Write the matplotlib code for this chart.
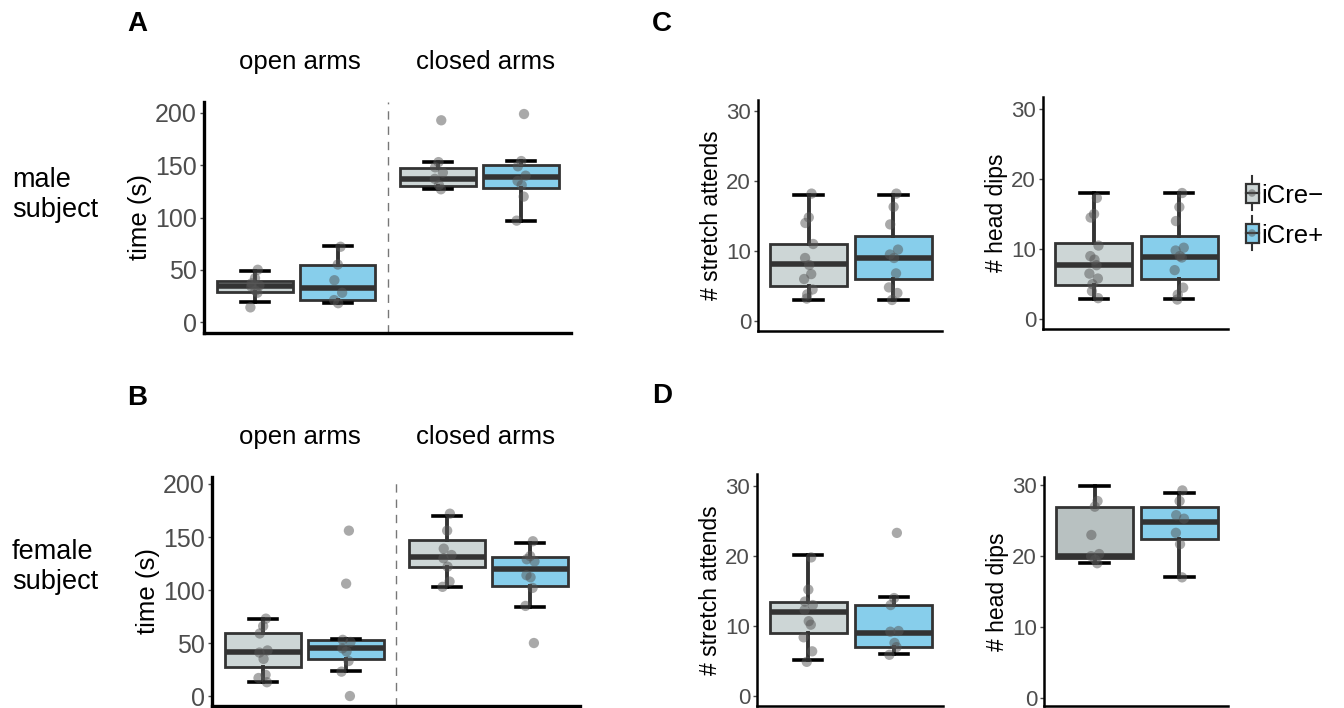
import matplotlib
matplotlib.use('Agg')
import matplotlib.pyplot as plt
import numpy as np

plt.rcParams['font.family'] = ['Liberation Sans', 'DejaVu Sans']

W, H = 1344, 708

# ---------------- data ----------------
genotypes = ['iCre−', 'iCre+']
arms = ['open arms', 'closed arms']
subjects = ['male\nsubject', 'female\nsubject']
panel_letters = ['A', 'B', 'C', 'D']

# box stats: [whislo, q1, median, q3, whishi]
A_open_neg = [19, 28.8, 34, 39, 49]
A_open_pos = [18.2, 20.8, 33, 54.4, 72.6]
A_closed_neg = [127, 130, 136.6, 147.5, 153]
A_closed_pos = [97, 128, 138.6, 150, 154]
A_open_neg_pts = [50, 42, 37, 35, 34, 30, 28, 14]
A_open_pos_pts = [72, 55, 40, 28, 21, 18]
A_closed_neg_pts = [193, 153, 148, 143, 137, 131, 127]
A_closed_pos_pts = [199, 154, 149, 140, 135, 131, 120, 97]

B_open_neg = [13, 27.5, 41.4, 59.7, 72.4]
B_open_pos = [23.4, 34.8, 44.9, 52.8, 53.7]
B_closed_neg = [103, 121.6, 131, 147, 170]
B_closed_pos = [84, 103.6, 120, 131, 144.7]
B_open_neg_pts = [73, 66, 59, 43, 41, 35, 20, 17, 13]
B_open_pos_pts = [156, 106, 53, 51, 45, 42, 33, 23, 0]
B_closed_neg_pts = [172, 156, 139, 133, 130, 122, 108, 103]
B_closed_pos_pts = [146, 132, 129, 127, 114, 112, 102, 85, 50]

C_stretch_neg = [3, 4.95, 8.1, 11.05, 18]
C_stretch_pos = [3, 6, 9, 12.1, 18]
C_stretch_neg_pts = [18.2, 14.8, 14, 11, 9, 8, 6.7, 6, 4.5, 3.8, 3.2]
C_stretch_pos_pts = [18.2, 16.3, 13.8, 10.2, 9.5, 9, 6.8, 4.8, 4, 3]
C_head_neg = [2.85, 4.9, 7.8, 10.8, 18]
C_head_pos = [2.85, 5.8, 8.9, 11.9, 18]
C_head_neg_pts = [17.3, 15, 14.5, 10.5, 9, 8.5, 7.7, 6.5, 5.8, 5, 4, 3]
C_head_pos_pts = [18, 16, 14, 10.2, 9.8, 9, 8.8, 7, 4.5, 3.5, 2.8]

D_stretch_neg = [5.1, 9, 12, 13.5, 20.1]
D_stretch_pos = [6, 7, 9, 13, 14.1]
D_stretch_neg_pts = [19.8, 15.2, 13.5, 13, 12.3, 10.7, 10.2, 8.4, 6.4, 4.9]
D_stretch_pos_pts = [23.3, 14, 13, 9.3, 9.2, 7.6, 7, 5.9]
D_head_neg = [19, 19.8, 20, 26.9, 29.9]
D_head_pos = [17, 22.4, 24.9, 26.9, 28.9]
D_head_neg_pts = [27.8, 27, 23, 20.3, 20, 19.5, 19]
D_head_pos_pts = [29.3, 27.8, 25.8, 25.3, 23.3, 21.7, 17]

# ---------------- style ----------------
GRAY = '#cdd6d6'
GRAY_D = '#b8c1c1'
BLUE = '#87ceeb'
EDGE = '#333333'
TICKC = '#4d4d4d'

fig = plt.figure(figsize=(W / 100, H / 100), dpi=100)


def ax_px(l, t, r, b):
    return fig.add_axes([l / W, 1 - b / H, (r - l) / W, (b - t) / H])


def jitter(n, amp):
    k = np.arange(n)
    return amp * np.sin(k * 2.4 + 0.7)


def draw(ax, pos, st, pts, color, width):
    ax.bxp([dict(whislo=st[0], q1=st[1], med=st[2], q3=st[3], whishi=st[4], fliers=[])],
           positions=[pos], widths=width, patch_artist=True, showfliers=False,
           capwidths=width * 0.37,
           boxprops=dict(facecolor=color, edgecolor=EDGE, linewidth=2.0),
           medianprops=dict(color=EDGE, linewidth=4.0, solid_capstyle='butt'),
           whiskerprops=dict(color=EDGE, linewidth=2.8),
           capprops=dict(color='black', linewidth=2.6))
    ax.scatter(pos + jitter(len(pts), width * 0.06), pts, s=55, color='#555555',
               alpha=0.5, edgecolors='none', zorder=5)


def style(ax, ylim, ticks, fs, lw):
    ax.set_ylim(*ylim)
    ax.set_yticks(ticks)
    ax.set_yticklabels([str(t) for t in ticks], fontsize=fs, color=TICKC)
    ax.set_xticks([])
    for s in ['top', 'right']:
        ax.spines[s].set_visible(False)
    for s in ['left', 'bottom']:
        ax.spines[s].set_linewidth(lw)
        ax.spines[s].set_color('black')
    ax.tick_params(axis='y', length=3, width=1, color=TICKC, pad=2)


# ------------- A & B -------------
rowsAB = [
    ((204, 102, 571, 333), (-10.5, 210.5),
     [(A_open_neg, A_open_neg_pts), (A_open_pos, A_open_pos_pts),
      (A_closed_neg, A_closed_neg_pts), (A_closed_pos, A_closed_pos_pts)]),
    ((212, 477, 580, 706), (-9.4, 206.6),
     [(B_open_neg, B_open_neg_pts), (B_open_pos, B_open_pos_pts),
      (B_closed_neg, B_closed_neg_pts), (B_closed_pos, B_closed_pos_pts)]),
]
pos4 = [0.277, 0.728, 1.277, 1.728]
cols4 = [GRAY, BLUE, GRAY, BLUE]
for (rect, yl, boxes) in rowsAB:
    ax = ax_px(*rect)
    ax.set_xlim(0, 2)
    for p, c, (st, pts) in zip(pos4, cols4, boxes):
        draw(ax, p, st, pts, c, 0.413)
    ax.axvline(1, color='#777777', lw=1.0, ls=(0, (6, 5)))
    style(ax, yl, [0, 50, 100, 150, 200], 18, 2.4)
    ax.set_ylabel('time (s)', fontsize=18.5, labelpad=2)

# ------------- C & D -------------
rowsCD = [
    ((758, 100, 942, 331), (-1.43, 31.57), C_stretch_neg, C_stretch_neg_pts, C_stretch_pos, C_stretch_pos_pts, '# stretch attends', GRAY),
    ((1043, 97, 1228, 329), (-1.4, 31.7), C_head_neg, C_head_neg_pts, C_head_pos, C_head_pos_pts, '# head dips', GRAY),
    ((757, 474, 943, 706), (-1.4, 31.7), D_stretch_neg, D_stretch_neg_pts, D_stretch_pos, D_stretch_pos_pts, '# stretch attends', GRAY),
    ((1044, 477, 1228, 706), (-1.2, 31.2), D_head_neg, D_head_neg_pts, D_head_pos, D_head_pos_pts, '# head dips', GRAY_D),
]
for rect, yl, sn, pn, sp, pp, lab, gcol in rowsCD:
    ax = ax_px(*rect)
    ax.set_xlim(0, 1)
    draw(ax, 0.275, sn, pn, gcol, 0.415)
    draw(ax, 0.736, sp, pp, BLUE, 0.415)
    style(ax, yl, [0, 10, 20, 30], 16, 1.8)
    ax.set_ylabel(lab, fontsize=16.5, labelpad=2)

# ------------- texts -------------
for (x, y), t in zip([(137, 24), (137, 398), (662, 24), (662, 396)], panel_letters):
    fig.text(x / W, 1 - y / H, t, fontsize=20, fontweight='bold', ha='center', va='center')
for yy in [62, 437]:
    fig.text(300 / W, 1 - yy / H, arms[0], fontsize=18.5, ha='center', va='center')
    fig.text(485 / W, 1 - yy / H, arms[1], fontsize=18.5, ha='center', va='center')
fig.text(12 / W, 1 - 195 / H, subjects[0], fontsize=19.5, ha='left', va='center', linespacing=1.2)
fig.text(12 / W, 1 - 567 / H, subjects[1], fontsize=19.5, ha='left', va='center', linespacing=1.2)

# ------------- legend -------------
lax = fig.add_axes([0, 0, 1, 1])
lax.set_xlim(0, W)
lax.set_ylim(H, 0)
lax.axis('off')
for (yc, col, lab) in [(193, GRAY, genotypes[0]), (233, BLUE, genotypes[1])]:
    lax.plot([1252, 1252], [yc - 17, yc + 17], color=EDGE, lw=1.5, zorder=1)
    lax.add_patch(plt.Rectangle((1245.5, yc - 9.5), 13, 19, facecolor=col,
                                edgecolor=EDGE, lw=1.6, zorder=2))
    lax.plot([1245.5, 1258.5], [yc, yc], color=EDGE, lw=1.6, zorder=3)
    lax.scatter([1252], [yc], s=30, color='#555555', alpha=0.5, edgecolors='none', zorder=4)
    lax.text(1261, yc + 3, lab, fontsize=18.5, ha='left', va='center')

fig.savefig('out.png', dpi=100)
